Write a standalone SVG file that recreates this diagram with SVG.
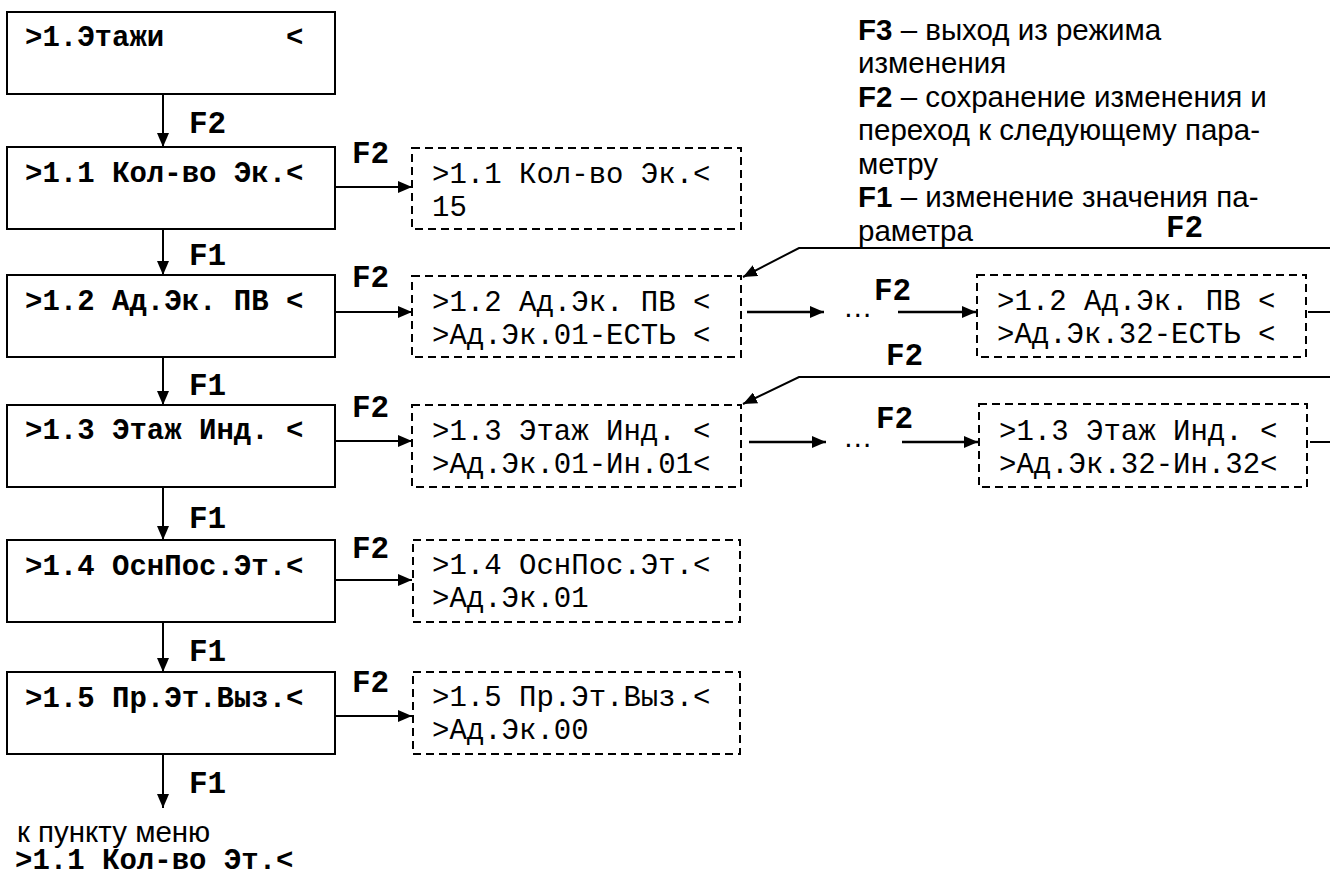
<svg xmlns="http://www.w3.org/2000/svg" width="1330" height="879" viewBox="0 0 1330 879">
<style>
.box{fill:#fff;stroke:#000;stroke-width:2}
.dbox{fill:#fff;stroke:#000;stroke-width:2;stroke-dasharray:8 5}
.mb{font-family:"Liberation Mono","Courier New",monospace;font-weight:bold;font-size:29px;fill:#000}
.mn{font-family:"Liberation Mono","Courier New",monospace;font-size:29px;fill:#000}
.key{font-family:"Liberation Mono","Courier New",monospace;font-weight:bold;font-size:31px;fill:#000}
.sans{font-family:"Liberation Sans",Arial,sans-serif;font-size:29.5px;fill:#000}
.b{font-weight:bold}
.ln{fill:none;stroke:#000;stroke-width:2}
.lt{fill:none;stroke:#000;stroke-width:2.5}
</style>
<defs>
<marker id="ah" viewBox="0 0 14 12" refX="14" refY="6" markerWidth="14" markerHeight="12" markerUnits="userSpaceOnUse" orient="auto">
<path d="M0,0 L14,6 L0,12 z" fill="#000"/>
</marker>
</defs>
<rect width="1330" height="879" fill="#fff"/>

<g id="connectors">
<line class="ln" x1="163" y1="94" x2="163" y2="147" marker-end="url(#ah)"/>
<line class="ln" x1="163" y1="229" x2="163" y2="275" marker-end="url(#ah)"/>
<line class="ln" x1="163" y1="357" x2="163" y2="405" marker-end="url(#ah)"/>
<line class="ln" x1="163" y1="487" x2="163" y2="540" marker-end="url(#ah)"/>
<line class="ln" x1="163" y1="622" x2="163" y2="672" marker-end="url(#ah)"/>
<line class="ln" x1="163" y1="754" x2="163" y2="808" marker-end="url(#ah)"/>
<line class="ln" x1="335" y1="187" x2="412" y2="187" marker-end="url(#ah)"/>
<line class="ln" x1="335" y1="312" x2="412" y2="312" marker-end="url(#ah)"/>
<line class="ln" x1="335" y1="441" x2="412" y2="441" marker-end="url(#ah)"/>
<line class="ln" x1="335" y1="580" x2="412" y2="580" marker-end="url(#ah)"/>
<line class="ln" x1="335" y1="716" x2="412" y2="716" marker-end="url(#ah)"/>
<line class="lt" x1="747" y1="312" x2="824" y2="312" marker-end="url(#ah)"/>
<line class="lt" x1="898" y1="312" x2="976" y2="312" marker-end="url(#ah)"/>
<line class="ln" x1="1308" y1="312" x2="1330" y2="312"/>
<polyline class="ln" points="1330,248 799,248 743,277" marker-end="url(#ah)"/>
<line class="lt" x1="749" y1="442" x2="826" y2="442" marker-end="url(#ah)"/>
<line class="lt" x1="902" y1="442" x2="978" y2="442" marker-end="url(#ah)"/>
<line class="ln" x1="1310" y1="442" x2="1330" y2="442"/>
<polyline class="ln" points="1330,377 799,377 743,404" marker-end="url(#ah)"/>
<text class="key" x="189" y="133">F2</text>
<text class="key" x="189" y="265">F1</text>
<text class="key" x="189" y="395">F1</text>
<text class="key" x="189" y="528">F1</text>
<text class="key" x="189" y="661">F1</text>
<text class="key" x="189" y="793">F1</text>
<text class="key" x="352" y="163">F2</text>
<text class="key" x="352" y="287">F2</text>
<text class="key" x="352" y="417">F2</text>
<text class="key" x="352" y="558">F2</text>
<text class="key" x="352" y="692">F2</text>
<text class="key" x="874" y="300">F2</text>
<text class="key" x="876" y="428">F2</text>
<text class="key" x="1166" y="237">F2</text>
<text class="key" x="886" y="365">F2</text>
<text class="sans" x="843" y="317">…</text>
<text class="sans" x="843" y="447">…</text>
</g>

<g id="n1"><rect class="box" x="7" y="12" width="328" height="82"/><text class="mb" x="25" y="46" xml:space="preserve">&gt;1.Этажи       &lt;</text></g>
<g id="n11"><rect class="box" x="7" y="147" width="328" height="82"/><text class="mb" x="25" y="182">&gt;1.1 Кол-во Эк.&lt;</text></g>
<g id="n12"><rect class="box" x="7" y="275" width="328" height="82"/><text class="mb" x="25" y="310">&gt;1.2 Ад.Эк. ПВ &lt;</text></g>
<g id="n13"><rect class="box" x="7" y="405" width="328" height="82"/><text class="mb" x="25" y="439">&gt;1.3 Этаж Инд. &lt;</text></g>
<g id="n14"><rect class="box" x="7" y="540" width="328" height="82"/><text class="mb" x="25" y="575">&gt;1.4 ОснПос.Эт.&lt;</text></g>
<g id="n15"><rect class="box" x="7" y="672" width="328" height="82"/><text class="mb" x="25" y="707">&gt;1.5 Пр.Эт.Выз.&lt;</text></g>

<g id="e11"><rect class="dbox" x="412" y="148" width="329" height="81"/><text class="mn" x="432" y="183">&gt;1.1 Кол-во Эк.&lt;</text><text class="mn" x="432" y="216">15</text></g>
<g id="e12a"><rect class="dbox" x="412" y="276" width="329" height="81"/><text class="mn" x="432" y="311" xml:space="preserve">&gt;1.2 Ад.Эк. ПВ &lt;</text><text class="mn" x="432" y="344" xml:space="preserve">&gt;Ад.Эк.01-ЕСТЬ &lt;</text></g>
<g id="e12b"><rect class="dbox" x="977" y="275" width="329" height="82"/><text class="mn" x="997" y="310" xml:space="preserve">&gt;1.2 Ад.Эк. ПВ &lt;</text><text class="mn" x="997" y="343" xml:space="preserve">&gt;Ад.Эк.32-ЕСТЬ &lt;</text></g>
<g id="e13a"><rect class="dbox" x="412" y="405" width="329" height="82"/><text class="mn" x="432" y="440" xml:space="preserve">&gt;1.3 Этаж Инд. &lt;</text><text class="mn" x="432" y="473">&gt;Ад.Эк.01-Ин.01&lt;</text></g>
<g id="e13b"><rect class="dbox" x="979" y="404" width="328" height="83"/><text class="mn" x="999" y="440" xml:space="preserve">&gt;1.3 Этаж Инд. &lt;</text><text class="mn" x="999" y="473">&gt;Ад.Эк.32-Ин.32&lt;</text></g>
<g id="e14"><rect class="dbox" x="413" y="540" width="327" height="82"/><text class="mn" x="432" y="574">&gt;1.4 ОснПос.Эт.&lt;</text><text class="mn" x="432" y="607">&gt;Ад.Эк.01</text></g>
<g id="e15"><rect class="dbox" x="413" y="672" width="327" height="82"/><text class="mn" x="432" y="706">&gt;1.5 Пр.Эт.Выз.&lt;</text><text class="mn" x="432" y="739">&gt;Ад.Эк.00</text></g>

<g id="legend">
<text class="sans" x="858" y="40"><tspan class="b">F3</tspan> – выход из режима</text>
<text class="sans" x="858" y="73">изменения</text>
<text class="sans" x="858" y="107"><tspan class="b">F2</tspan> – сохранение изменения и</text>
<text class="sans" x="858" y="140">переход к следующему пара-</text>
<text class="sans" x="858" y="174">метру</text>
<text class="sans" x="858" y="207"><tspan class="b">F1</tspan> – изменение значения па-</text>
<text class="sans" x="858" y="241">раметра</text>
</g>

<g id="footer">
<text class="sans" x="17" y="842">к пункту меню</text>
<text class="mb" x="15" y="869">&gt;1.1 Кол-во Эт.&lt;</text>
</g>
</svg>
